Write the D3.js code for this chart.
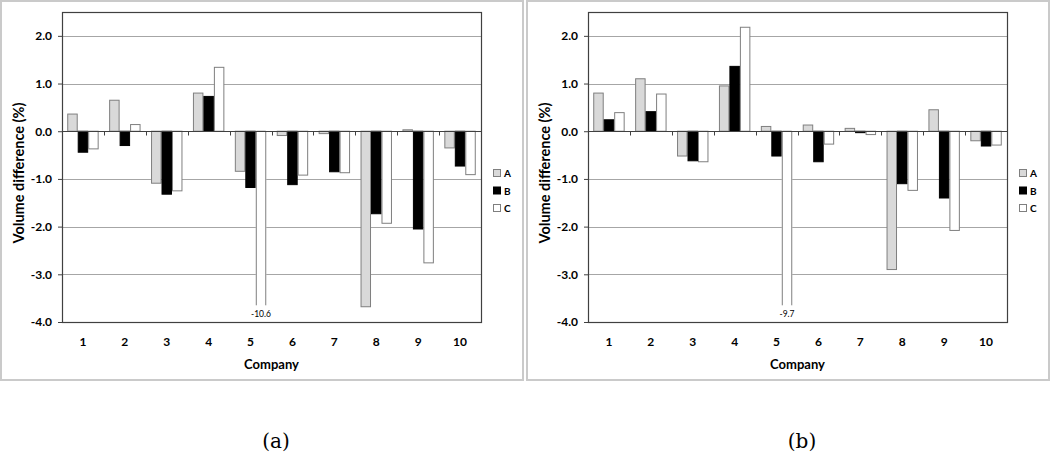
<!DOCTYPE html>
<html>
<head>
<meta charset="utf-8">
<script src="https://cdn.jsdelivr.net/npm/d3@7"></script>
<style>
  body { margin: 0; background: #fff; }
  svg { display: block; }
  text { font-family: Lato, "Open Sans", sans-serif; }
</style>
</head>
<body>
<svg id="chart" width="1050" height="454"></svg>
<script>
// data
const companies = ["1", "2", "3", "4", "5", "6", "7", "8", "9", "10"];
const seriesNames = ["A", "B", "C"];
const yTicks = [2.0, 1.0, 0.0, -1.0, -2.0, -3.0, -4.0];

const panelA_A = [0.36, 0.65, -1.09, 0.80, -0.84, -0.09, -0.05, -3.68, 0.03, -0.35];
const panelA_B = [-0.44, -0.30, -1.32, 0.73, -1.18, -1.12, -0.85, -1.73, -2.05, -0.73];
const panelA_C = [-0.37, 0.14, -1.25, 1.34, -10.6, -0.92, -0.87, -1.93, -2.76, -0.91];

const panelB_A = [0.80, 1.10, -0.52, 0.95, 0.10, 0.13, 0.06, -2.90, 0.45, -0.20];
const panelB_B = [0.24, 0.41, -0.62, 1.36, -0.52, -0.64, -0.03, -1.10, -1.40, -0.31];
const panelB_C = [0.39, 0.78, -0.64, 2.18, -9.7, -0.27, -0.07, -1.24, -2.08, -0.29];

const captions = ["(a)", "(b)"];

// styles
const fills = { A: "#d9d9d9", B: "#000000", C: "#ffffff" };
const strokes = { A: "#7f7f7f", B: "#000000", C: "#7f7f7f" };
const BREAK_AT = -3.65; // bars below the axis minimum are drawn cut off here
const fmt = d => d3.format(".1f")(d).replace("\u2212", "-");

const svg = d3.select("#chart");

function drawPanel(left, width, vals, caption) {
    const g = svg.append("g").attr("transform", `translate(${left},0)`);

    // panel frame
    g.append("rect")
        .attr("x", 1).attr("y", 1)
        .attr("width", width - 2).attr("height", 379)
        .attr("fill", "none")
        .attr("stroke", "#cacaca")
        .attr("stroke-width", 2);

    const plot = { x0: 62, x1: width - 43, y0: 12, y1: 322 };

    const x0 = d3.scaleBand().domain(companies).range([plot.x0, plot.x1]);
    const gap = x0.bandwidth() * 0.25;
    const x1 = d3.scaleBand().domain(seriesNames).range([gap / 2, x0.bandwidth() - gap / 2]);
    const y = d3.scaleLinear().domain([-4, 2.5]).range([plot.y1, plot.y0]);

    // gridlines
    g.append("g")
        .selectAll("line")
        .data(yTicks.filter(d => d > -4))
        .join("line")
        .attr("x1", plot.x0).attr("x2", plot.x1)
        .attr("y1", d => Math.round(y(d)) + 0.5)
        .attr("y2", d => Math.round(y(d)) + 0.5)
        .attr("stroke", "#a6a6a6")
        .attr("stroke-width", 1);

    // y axis
    const yAxis = g.append("g")
        .attr("transform", `translate(${plot.x0},0)`)
        .call(d3.axisLeft(y).tickValues(yTicks).tickSize(4).tickPadding(6).tickFormat(fmt));
    yAxis.select(".domain").remove();
    yAxis.selectAll(".tick line").attr("stroke", "#404040");
    yAxis.selectAll("text")
        .attr("fill", "#000")
        .style("font-size", "12px")
        .style("font-weight", "bold")
        .style("font-family", "Lato, sans-serif");

    // bars
    const data = seriesNames.map((s, i) => ({ name: s, values: vals[i] }));
    data.forEach(series => {
        series.values.forEach((v, ci) => {
            const c = companies[ci];
            const bx = x0(c) + x1(series.name);
            const bw = x1.bandwidth();
            if (v < -4) {
                const yb = y(BREAK_AT);
                const yz = y(0);
                g.append("rect")
                    .attr("x", bx).attr("y", yz)
                    .attr("width", bw).attr("height", yb - yz)
                    .attr("fill", fills[series.name]);
                g.append("path")
                    .attr("d", `M${bx + 0.5},${yb}V${yz}H${bx + bw - 0.5}V${yb}`)
                    .attr("fill", "none")
                    .attr("stroke", strokes[series.name])
                    .attr("stroke-width", 1);
                g.append("text")
                    .attr("x", bx + bw / 2)
                    .attr("y", yb + 12)
                    .attr("text-anchor", "middle")
                    .style("font-size", "8.5px")
                    .text(fmt(v));
            } else {
                g.append("rect")
                    .attr("x", bx + 0.5)
                    .attr("y", Math.min(y(v), y(0)))
                    .attr("width", bw - 1)
                    .attr("height", Math.abs(y(v) - y(0)))
                    .attr("fill", fills[series.name])
                    .attr("stroke", strokes[series.name])
                    .attr("stroke-width", 1);
            }
        });
    });

    // zero axis with category ticks
    const zy = Math.round(y(0)) + 0.5;
    g.append("line")
        .attr("x1", plot.x0).attr("x2", plot.x1)
        .attr("y1", zy).attr("y2", zy)
        .attr("stroke", "#404040");
    g.append("g")
        .selectAll("line")
        .data(companies.slice(1))
        .join("line")
        .attr("x1", d => Math.round(x0(d)) + 0.5)
        .attr("x2", d => Math.round(x0(d)) + 0.5)
        .attr("y1", zy).attr("y2", zy + 4)
        .attr("stroke", "#404040");

    // plot border
    g.append("rect")
        .attr("x", plot.x0 + 0.5).attr("y", plot.y0 + 0.5)
        .attr("width", plot.x1 - plot.x0).attr("height", plot.y1 - plot.y0)
        .attr("fill", "none")
        .attr("stroke", "#404040")
        .attr("stroke-width", 1.2);

    // category labels
    g.append("g")
        .selectAll("text")
        .data(companies)
        .join("text")
        .attr("x", d => x0(d) + x0.bandwidth() / 2)
        .attr("y", 346)
        .attr("text-anchor", "middle")
        .style("font-size", "12px")
        .style("font-weight", "bold")
        .text(d => d);

    // axis titles
    g.append("text")
        .attr("x", (plot.x0 + plot.x1) / 2)
        .attr("y", 369)
        .attr("text-anchor", "middle")
        .style("font-size", "13px")
        .style("font-weight", "bold")
        .text("Company");

    g.append("text")
        .attr("transform", `translate(24,${(plot.y0 + plot.y1) / 2 + 6}) rotate(-90)`)
        .attr("text-anchor", "middle")
        .style("font-size", "14.5px")
        .style("font-weight", "bold")
        .text("Volume difference (%)");

    // legend
    const legend = g.append("g").attr("transform", `translate(${plot.x1 + 12},169)`);
    seriesNames.forEach((s, i) => {
        const row = legend.append("g").attr("transform", `translate(0,${i * 17.5})`);
        row.append("rect")
            .attr("x", 0.5).attr("y", 0.5)
            .attr("width", 7).attr("height", 7)
            .attr("fill", fills[s])
            .attr("stroke", strokes[s]);
        row.append("text")
            .attr("x", 11).attr("y", 8)
            .style("font-size", "10px")
            .style("font-weight", "bold")
            .text(s);
    });

    // caption
    g.append("text")
        .attr("x", width / 2 + 14)
        .attr("y", 448)
        .attr("text-anchor", "middle")
        .style("font-family", "'DejaVu Serif', serif")
        .style("font-size", "20px")
        .text(caption);
}

drawPanel(0, 524, [panelA_A, panelA_B, panelA_C], captions[0]);
drawPanel(526, 524, [panelB_A, panelB_B, panelB_C], captions[1]);
</script>
</body>
</html>
